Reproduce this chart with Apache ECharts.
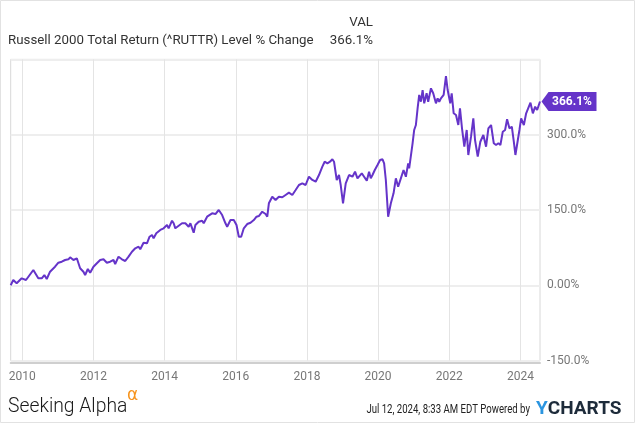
<!DOCTYPE html>
<html>
<head>
<meta charset="utf-8">
<script src="https://cdn.jsdelivr.net/npm/echarts@6/dist/echarts.min.js"></script>
<style>
html,body{margin:0;padding:0;background:#fff;}
#main{width:635px;height:424px;}
</style>
</head>
<body>
<div id="main"></div>
<script>
// Decimal-year dates of each observation
const years = [
  2009.674, 2009.746, 2009.842, 2009.983, 2010.104, 2010.31, 2010.358, 2010.45, 2010.546, 2010.62,
  2010.687, 2010.78, 2010.92, 2011.014, 2011.11, 2011.203, 2011.296, 2011.344, 2011.437, 2011.532,
  2011.625, 2011.718, 2011.766, 2011.842, 2011.907, 2012.0, 2012.096, 2012.189, 2012.282, 2012.377,
  2012.47, 2012.563, 2012.611, 2012.704, 2012.8, 2012.893, 2012.986, 2013.082, 2013.175, 2013.268,
  2013.315, 2013.408, 2013.504, 2013.577, 2013.645, 2013.69, 2013.766, 2013.879, 2013.972, 2014.068,
  2014.113, 2014.208, 2014.254, 2014.301, 2014.349, 2014.49, 2014.583, 2014.676, 2014.724, 2014.817,
  2014.865, 2014.958, 2015.054, 2015.099, 2015.194, 2015.335, 2015.428, 2015.521, 2015.617, 2015.71,
  2015.758, 2015.851, 2015.944, 2016.02, 2016.085, 2016.152, 2016.225, 2016.321, 2016.414, 2016.507,
  2016.583, 2016.648, 2016.744, 2016.837, 2016.885, 2016.93, 2017.025, 2017.118, 2017.211, 2017.307,
  2017.4, 2017.493, 2017.589, 2017.682, 2017.775, 2017.87, 2017.963, 2018.056, 2018.152, 2018.245,
  2018.338, 2018.386, 2018.433, 2018.498, 2018.575, 2018.648, 2018.715, 2018.761, 2018.837, 2018.901,
  2018.949, 2019.014, 2019.09, 2019.183, 2019.279, 2019.352, 2019.42, 2019.465, 2019.541, 2019.606,
  2019.682, 2019.746, 2019.794, 2019.842, 2019.907, 2019.983, 2020.056, 2020.124, 2020.169, 2020.217,
  2020.282, 2020.358, 2020.434, 2020.499, 2020.563, 2020.639, 2020.715, 2020.78, 2020.845, 2020.873,
  2020.969, 2021.014, 2021.062, 2021.11, 2021.155, 2021.203, 2021.251, 2021.296, 2021.363, 2021.408,
  2021.485, 2021.549, 2021.625, 2021.673, 2021.718, 2021.766, 2021.842, 2021.907, 2021.955, 2022.028,
  2022.068, 2022.124, 2022.189, 2022.254, 2022.301, 2022.358, 2022.423, 2022.49, 2022.535, 2022.611,
  2022.676, 2022.724, 2022.8, 2022.873, 2022.958, 2023.034, 2023.099, 2023.175, 2023.251, 2023.315,
  2023.38, 2023.437, 2023.504, 2023.569, 2023.625, 2023.69, 2023.758, 2023.814, 2023.859, 2023.927,
  2023.972, 2024.02, 2024.096, 2024.161, 2024.237, 2024.282, 2024.349, 2024.414, 2024.47, 2024.52,
  2024.55
];
// Russell 2000 Total Return level % change
const pctChange = [
  0, 10.6, 4.0, 13.9, 10.6, 30.5, 29, 13.9, 13.9, 20.5,
  12.5, 27.1, 37, 45, 47, 50.4, 51.8, 55.8, 50.4, 53.8,
  33.9, 27.1, 20.5, 32.5, 25.1, 37, 43.8, 50.4, 51.8, 45,
  47, 50.4, 42.4, 57, 51.8, 48.4, 57, 66.9, 73.7, 76.9,
  71.7, 84.9, 83.7, 96.8, 100.2, 93.6, 103.6, 110.2, 113.5, 120.1,
  113.5, 128.7, 123.5, 113.5, 113.5, 123.5, 123.5, 116.7, 123.5, 104.8,
  120.1, 126.7, 128.7, 123.5, 136.7, 143.4, 142, 150, 140, 123.5,
  116.7, 130, 130, 120.1, 96.8, 96.8, 113.5, 122.1, 124.7, 130,
  136.7, 138, 146.6, 142, 136.7, 163.3, 176.5, 169.9, 176.5, 175.3,
  179.9, 184.5, 179.9, 189.8, 199.8, 203.2, 199.8, 216.3, 209.8, 206.4,
  219.7, 223.1, 236.3, 246.2, 243, 246.2, 251, 246.2, 209.8, 219.7,
  199.8, 163.3, 203.2, 219.7, 216.3, 226.3, 213.1, 211.2, 223.1, 216.3,
  208.4, 226.3, 213.1, 219.7, 229.7, 239.6, 249.6, 251, 243, 209.8,
  136.7, 163.3, 183.3, 213.1, 196.4, 213.1, 229.7, 216.3, 243, 233.1,
  282.9, 309.4, 319.3, 352.6, 379.1, 365.7, 389, 362.5, 382.5, 365.7,
  392.4, 382.5, 362.5, 372.5, 365.7, 372.5, 379.1, 416.9, 389, 362.5,
  382.5, 342.6, 339.2, 319.3, 352.6, 312.7, 276.1, 309.4, 259.6, 296,
  332.7, 289.4, 256.2, 286, 299.4, 276.1, 312.7, 319.3, 282.9, 279.5,
  282.9, 279.5, 306, 309.4, 330.7, 312.7, 315.9, 286, 259.6, 289.4,
  309.4, 332.7, 319.3, 342.6, 355.8, 363.7, 342.6, 355.8, 349.2, 345.8,
  366.1
];
const xTickYears = [2010, 2012, 2014, 2016, 2018, 2020, 2022, 2024];
const yMin = -150, yMax = 450, yStep = 150;
const seriesName = 'Russell 2000 Total Return (^RUTTR) Level % Change';
const footerDate = 'Jul 12, 2024, 8:33 AM EDT Powered by';

const lastIdx = pctChange.length - 1;
const lastVal = pctChange[lastIdx];
const lineColor = '#6534c9';

const chart = echarts.init(document.getElementById('main'), null, {renderer: 'canvas'});
chart.setOption({
  animation: false,
  backgroundColor: '#fff',
  grid: { left: 10.7, right: 95, top: 59.4, bottom: 63.4, show: true, borderColor: '#d8d8d8', borderWidth: 1 },
  xAxis: {
    type: 'value',
    min: years[0],
    max: years[lastIdx],
    offset: 2,
    axisLine: { show: true, onZero: false, lineStyle: { color: '#cfcfcf', width: 2 } },
    axisTick: { show: false, customValues: xTickYears },
    axisLabel: { customValues: xTickYears, color: '#777', fontFamily: 'Roboto', fontSize: 12, margin: 8,
      formatter: v => String(Math.round(v)) },
    splitLine: { show: true, lineStyle: { color: '#e4e4e4', width: 1 } }
  },
  yAxis: {
    type: 'value',
    position: 'right',
    min: yMin, max: yMax, interval: yStep,
    axisLine: { show: false },
    axisTick: { show: false },
    axisLabel: {
      color: '#777', fontFamily: 'Roboto', fontSize: 12, margin: 7,
      verticalAlign: 'middle', padding: [0, 0, 9, 0],
      formatter: v => v === yMax ? '' : (v === 0 ? '0.00%' : v.toFixed(1) + '%')
    },
    splitLine: { show: true, lineStyle: { color: '#eeeeee', width: 2 } }
  },
  series: [{
    name: seriesName,
    type: 'line',
    data: years.map((y, i) => [y, pctChange[i]]),
    showSymbol: false,
    lineStyle: { color: lineColor, width: 2 },
    itemStyle: { color: lineColor },
    markPoint: {
      silent: true,
      symbol: 'path://M0 9.5 L7 0 L55 0 L55 19 L7 19 Z',
      symbolSize: [55, 19],
      symbolKeepAspect: false,
      symbolOffset: [29, 0],
      itemStyle: { color: lineColor },
      label: { show: true, position: 'inside', offset: [3, 0], color: '#fff', fontWeight: 'bold',
        fontFamily: 'Roboto', fontSize: 12, formatter: p => p.value.toFixed(1) + '%' },
      data: [{ coord: [years[lastIdx], lastVal], value: lastVal }]
    }
  }],
  graphic: [
    { type: 'rect', silent: true, shape: { x: 0.5, y: 0.5, width: 634, height: 422 },
      style: { fill: 'none', stroke: '#e2e2e2', lineWidth: 1 } },
    { type: 'text', style: { text: seriesName, x: 8, y: 41, verticalAlign: 'middle',
      font: '13.3px Roboto', fill: '#333' } },
    { type: 'text', style: { text: 'VAL', x: 373, y: 23, verticalAlign: 'middle', align: 'right',
      font: '13.3px Roboto', fill: '#333' } },
    { type: 'text', style: { text: lastVal.toFixed(1) + '%', x: 373, y: 41, verticalAlign: 'middle', align: 'right',
      font: '13.3px Roboto', fill: '#333' } },
    { type: 'text', x: 8, y: 407, scaleX: 0.92, style: { text: 'Seeking Alpha', x: 0, y: 0, verticalAlign: 'middle',
      font: '300 21px Roboto', fill: '#1a1a1a' } },
    { type: 'text', style: { text: 'α', x: 127, y: 396, verticalAlign: 'middle',
      font: '17px "DejaVu Sans", sans-serif', fill: '#f7941d' } },
    { type: 'text', x: 530, y: 410, scaleX: 0.8, style: { text: footerDate, x: 0, y: 0, verticalAlign: 'middle', align: 'right',
      font: '12px Roboto', fill: '#222' } },
    { type: 'text', style: { text: '{y|Y}{c|CHARTS}', x: 536, y: 409, verticalAlign: 'middle',
      rich: {
        y: { fontFamily: 'Roboto', fontWeight: 'bold', fontSize: 19, fill: '#2b95e0' },
        c: { fontFamily: 'Roboto', fontWeight: 'bold', fontSize: 19, fill: '#1d2b3a' }
      } } }
  ]
});
</script>
</body>
</html>
